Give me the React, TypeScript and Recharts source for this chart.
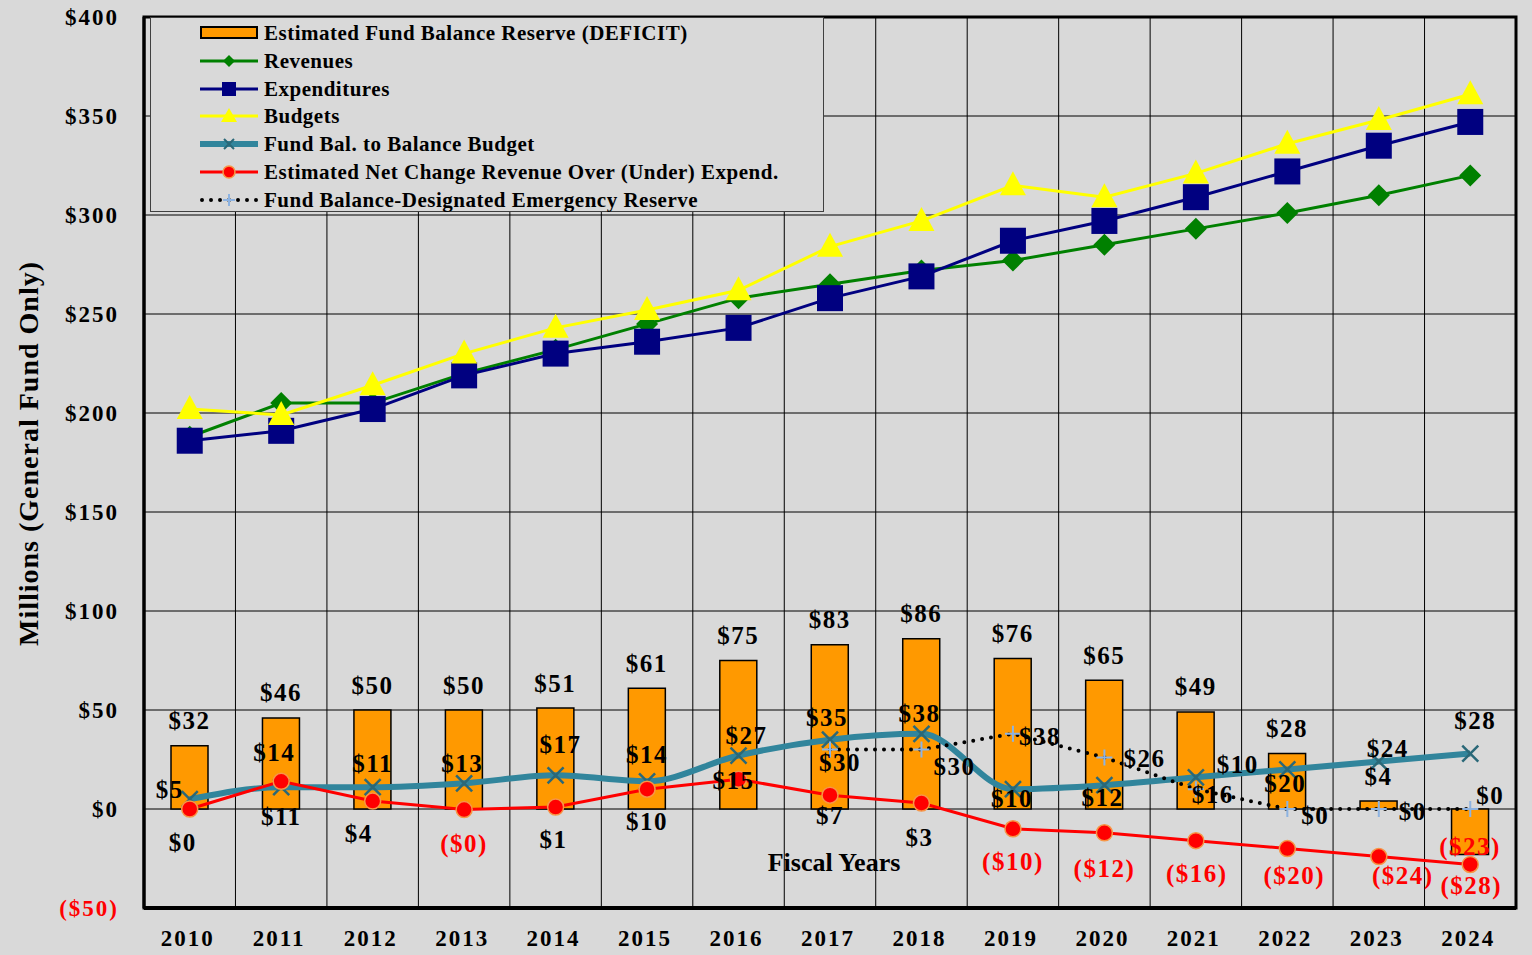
import React from 'react';
import { ComposedChart, Bar, Line, XAxis, YAxis, CartesianGrid, Legend, LabelList, ReferenceArea } from 'recharts';

const years = ['2010', '2011', '2012', '2013', '2014', '2015', '2016', '2017', '2018', '2019', '2020', '2021', '2022', '2023', '2024'];
const fundReserve = [32, 46, 50, 50, 51, 61, 75, 83, 86, 76, 65, 49, 28, 4, -23];
const revenues = [188, 205, 205, 220, 232, 245, 258, 265, 272, 277, 285, 293, 301, 310, 320];
const expenditures = [186, 191, 202, 219, 230, 236, 243, 258, 269, 287, 297, 309, 322, 335, 347];
const budgets = [202, 199, 214, 230, 243, 252, 262, 284, 297, 315, 309, 321, 336, 348, 361];
const fundBalToBudget = [5, 11, 11, 13, 17, 14, 27, 35, 38, 10, 12, 16, 20, 24, 28];
const netChange = [0, 14, 4, -0.3, 1, 10, 15, 7, 3, -10, -12, -16, -20, -24, -28];
const emergencyReserve = [null, null, null, null, null, null, null, 30, 30, 38, 26, 10, 0, 0, 0];
const yTicks = [-50, 0, 50, 100, 150, 200, 250, 300, 350, 400];

// hand-placed label nudges, like the moved labels in the original
const tealLabelNudge = [[-20, -10], [0, 29], [0, -24], [-2, -20], [5, -31], [0, -27], [8, -20], [-3, -22], [-2, -20], [-1, 9], [-2, 12], [17, 17], [-2, 14], [9, -13], [5, -33]];
const netLabelNudge = [[-7, 33], [-7, -29], [-14, 32], [0, 34], [-2, 32], [0, 32], [-5, 1], [0, 20], [-2, 34], [0, 33], [0, 36], [1, 33], [7, 27], [24, 19], [1, 21]];
const reserveLabelNudge = [[0, 0], [0, 0], [0, 0], [0, 0], [0, 0], [0, 0], [0, 0], [10, 13], [33, 17], [27, 3], [40, 1], [42, -25], [28, 6], [34, 2], [20, -14]];

const data = years.map((year, i) => ({
    year,
    fundReserve: fundReserve[i],
    revenues: revenues[i],
    expenditures: expenditures[i],
    budgets: budgets[i],
    fundBalToBudget: fundBalToBudget[i],
    netChange: netChange[i],
    emergencyReserve: emergencyReserve[i],
}));

const FONT = '"Liberation Serif", "Times New Roman", serif';
const BG = '#D9D9D9';
const TEAL = '#31859C';

const money = (v: number) => (v < 0 ? `($${Math.round(-v)})` : `$${Math.round(v)}`);
const labelColor = (v: number) => (v < 0 ? '#FF0000' : '#000000');

const labelText = (x: number, y: number, v: number, key: string) => (
    <text key={key} x={x} y={y} textAnchor="middle" dominantBaseline="central" fontFamily={FONT} fontWeight="bold" fontSize={25} letterSpacing={1.5} fill={labelColor(v)}>
        {money(v)}
    </text>
);

const nudgedLabel = (nudge: number[][]) => (props: any) => {
    const { x, y, value, index } = props;
    if (value == null || x == null || y == null) return null;
    const [dx, dy] = nudge[index] || [0, 0];
    return labelText(x + dx, y + dy, value, `l-${index}`);
};

const barLabel = (props: any) => {
    const { x, y, width, height, value, index } = props;
    if (value == null) return null;
    const top = Math.min(y, y + height);
    const bottom = Math.max(y, y + height);
    const cy = value < 0 ? bottom - 8 : top - 25;
    return labelText(x + width / 2, cy, value, `b-${index}`);
};

const empty = (k: any) => <g key={`e-${k}`} />;

const diamondDot = (p: any) => {
    if (p.cx == null || p.cy == null) return empty(p.index);
    const s = 11;
    return <path key={`dm-${p.index}`} d={`M${p.cx},${p.cy - s}L${p.cx + s},${p.cy}L${p.cx},${p.cy + s}L${p.cx - s},${p.cy}Z`} fill="#008000" />;
};
const squareDot = (p: any) => {
    if (p.cx == null || p.cy == null) return empty(p.index);
    const s = 13;
    return <rect key={`sq-${p.index}`} x={p.cx - s} y={p.cy - s} width={s * 2} height={s * 2} fill="#000080" />;
};
const triangleDot = (p: any) => {
    if (p.cx == null || p.cy == null) return empty(p.index);
    return <path key={`tr-${p.index}`} d={`M${p.cx},${p.cy - 14}L${p.cx + 13},${p.cy + 10}L${p.cx - 13},${p.cy + 10}Z`} fill="#FFFF00" />;
};
const crossDot = (p: any) => {
    if (p.cx == null || p.cy == null) return empty(p.index);
    const s = 8;
    return (
        <path key={`x-${p.index}`} d={`M${p.cx - s},${p.cy - s}L${p.cx + s},${p.cy + s}M${p.cx - s},${p.cy + s}L${p.cx + s},${p.cy - s}`} stroke="#2A6878" strokeWidth={2.5} fill="none" />
    );
};
const circleDot = (p: any) => {
    if (p.cx == null || p.cy == null) return empty(p.index);
    return <circle key={`c-${p.index}`} cx={p.cx} cy={p.cy} r={8} fill="#FF0000" stroke="#F79646" strokeWidth={1.5} />;
};
const plusDot = (p: any) => {
    if (p.cx == null || p.cy == null) return empty(p.index);
    const s = 8;
    return (
        <path key={`p-${p.index}`} d={`M${p.cx - s},${p.cy}L${p.cx + s},${p.cy}M${p.cx},${p.cy - s}L${p.cx},${p.cy + s}`} stroke="#8DB3E2" strokeWidth={2} fill="none" />
    );
};

const YTick = (props: any) => {
    const { x, y, payload } = props;
    const v = payload.value;
    return (
        <text x={x - 17} y={y} textAnchor="end" dominantBaseline="central" fontFamily={FONT} fontWeight="bold" fontSize={23} letterSpacing={2} fill={labelColor(v)}>
            {money(v)}
        </text>
    );
};

const XTick = (props: any) => {
    const { x, y, payload } = props;
    return (
        <text x={x - 2} y={y + 22} textAnchor="middle" dominantBaseline="central" fontFamily={FONT} fontWeight="bold" fontSize={23} letterSpacing={2} fill="#000">
            {payload.value}
        </text>
    );
};

const legendRows = [
    {
        name: 'Estimated Fund Balance Reserve (DEFICIT)',
        icon: <rect x={1} y={4} width={56} height={11} fill="#FF9900" stroke="#000" strokeWidth={2} />,
    },
    {
        name: 'Revenues',
        icon: (
            <g>
                <line x1={0} y1={10} x2={58} y2={10} stroke="#008000" strokeWidth={3} />
                <path d="M29,4L35,10L29,16L23,10Z" fill="#008000" />
            </g>
        ),
    },
    {
        name: 'Expenditures',
        icon: (
            <g>
                <line x1={0} y1={10} x2={58} y2={10} stroke="#000080" strokeWidth={3} />
                <rect x={22} y={3} width={14} height={14} fill="#000080" />
            </g>
        ),
    },
    {
        name: 'Budgets',
        icon: (
            <g>
                <line x1={0} y1={10} x2={58} y2={10} stroke="#FFFF00" strokeWidth={3} />
                <path d="M29,2L37,16L21,16Z" fill="#FFFF00" />
            </g>
        ),
    },
    {
        name: 'Fund Bal. to Balance Budget',
        icon: (
            <g>
                <line x1={0} y1={10} x2={58} y2={10} stroke={TEAL} strokeWidth={6} />
                <path d="M24,5L34,15M24,15L34,5" stroke="#2A6878" strokeWidth={2} />
            </g>
        ),
    },
    {
        name: 'Estimated Net Change Revenue Over (Under) Expend.',
        icon: (
            <g>
                <line x1={0} y1={10} x2={58} y2={10} stroke="#FF0000" strokeWidth={3} />
                <circle cx={29} cy={10} r={6} fill="#FF0000" stroke="#F79646" strokeWidth={1.5} />
            </g>
        ),
    },
    {
        name: 'Fund Balance-Designated Emergency Reserve',
        icon: (
            <g>
                <line x1={2} y1={10} x2={58} y2={10} stroke="#000" strokeWidth={4} strokeDasharray="0 9" strokeLinecap="round" />
                <path d="M23,10L35,10M29,4L29,16" stroke="#8DB3E2" strokeWidth={2} />
            </g>
        ),
    },
];

const LegendBox = () => (
    <div style={{ position: 'relative', width: 674, height: 195, background: BG, border: '1px solid #404040', boxSizing: 'border-box' }}>
        {legendRows.map((r, i) => (
            <div key={r.name} style={{ position: 'absolute', left: 49, top: 1 + i * 27.8, height: 28, display: 'flex', alignItems: 'center' }}>
                <svg width={60} height={20} style={{ display: 'block' }}>
                    {r.icon}
                </svg>
                <span style={{ marginLeft: 4, fontFamily: FONT, fontWeight: 'bold', fontSize: 21, letterSpacing: 0.5, color: '#000', whiteSpace: 'nowrap', lineHeight: '28px' }}>
                    {r.name}
                </span>
            </div>
        ))}
    </div>
);

export default function App() {
    return (
        <div style={{ position: 'absolute', left: 0, top: 0, width: 1532, height: 955, background: BG, overflow: 'hidden' }}>
            <ComposedChart width={1532} height={955} data={data} margin={{ top: 17, right: 16, left: 0, bottom: 0 }}>
                <CartesianGrid
                    stroke="#000"
                    strokeWidth={1}
                    verticalCoordinatesGenerator={({ offset }: any) =>
                        years.slice(1).map((_, i) => offset.left + ((i + 1) * offset.width) / years.length)
                    }
                />
                <XAxis
                    dataKey="year"
                    height={47}
                    tickLine={false}
                    axisLine={{ stroke: '#000', strokeWidth: 4 }}
                    tick={<XTick />}
                    interval={0}
                    label={{
                        content: ({ viewBox }: any) => (
                            <text x={viewBox.x + viewBox.width / 2 + 4} y={viewBox.y - 46} textAnchor="middle" dominantBaseline="central" fontFamily={FONT} fontWeight="bold" fontSize={26} fill="#000">
                                Fiscal Years
                            </text>
                        ),
                    }}
                />
                <YAxis
                    width={144}
                    domain={[-50, 400]}
                    ticks={yTicks}
                    interval={0}
                    tickLine={false}
                    axisLine={{ stroke: '#000', strokeWidth: 3 }}
                    tick={<YTick />}
                    label={{
                        content: ({ viewBox }: any) => {
                            const cx = viewBox.x + 28;
                            const cy = viewBox.y + viewBox.height / 2 - 9;
                            return (
                                <text x={cx} y={cy} transform={`rotate(-90, ${cx}, ${cy})`} textAnchor="middle" dominantBaseline="central" fontFamily={FONT} fontWeight="bold" fontSize={28} letterSpacing={1} fill="#000">
                                    Millions (General Fund Only)
                                </text>
                            );
                        },
                    }}
                />
                <Legend
                    layout="horizontal"
                    verticalAlign="middle"
                    align="center"
                    wrapperStyle={{ top: 17, left: 150, width: 674, height: 195 }}
                    content={() => <LegendBox />}
                />
                <Bar dataKey="fundReserve" fill="#FF9900" stroke="#000" strokeWidth={1.5} barSize={37} isAnimationActive={false}>
                    <LabelList dataKey="fundReserve" content={barLabel} />
                </Bar>
                <Line dataKey="revenues" stroke="#008000" strokeWidth={3} dot={diamondDot} activeDot={false} isAnimationActive={false} />
                <Line dataKey="expenditures" stroke="#000080" strokeWidth={3} dot={squareDot} activeDot={false} isAnimationActive={false} />
                <Line dataKey="budgets" stroke="#FFFF00" strokeWidth={3} dot={triangleDot} activeDot={false} isAnimationActive={false} />
                <Line type="monotone" dataKey="fundBalToBudget" stroke={TEAL} strokeWidth={6} dot={crossDot} activeDot={false} isAnimationActive={false}>
                    <LabelList dataKey="fundBalToBudget" content={nudgedLabel(tealLabelNudge)} />
                </Line>
                <Line dataKey="netChange" stroke="#FF0000" strokeWidth={3} dot={circleDot} activeDot={false} isAnimationActive={false}>
                    <LabelList dataKey="netChange" content={nudgedLabel(netLabelNudge)} />
                </Line>
                <Line
                    dataKey="emergencyReserve"
                    stroke="#000"
                    strokeWidth={4}
                    strokeDasharray="0 9"
                    strokeLinecap="round"
                    dot={plusDot}
                    activeDot={false}
                    isAnimationActive={false}
                >
                    <LabelList dataKey="emergencyReserve" content={nudgedLabel(reserveLabelNudge)} />
                </Line>
                <ReferenceArea y1={-50} y2={400} fill="none" stroke="#000" strokeWidth={3} ifOverflow="visible" />
            </ComposedChart>
        </div>
    );
}
